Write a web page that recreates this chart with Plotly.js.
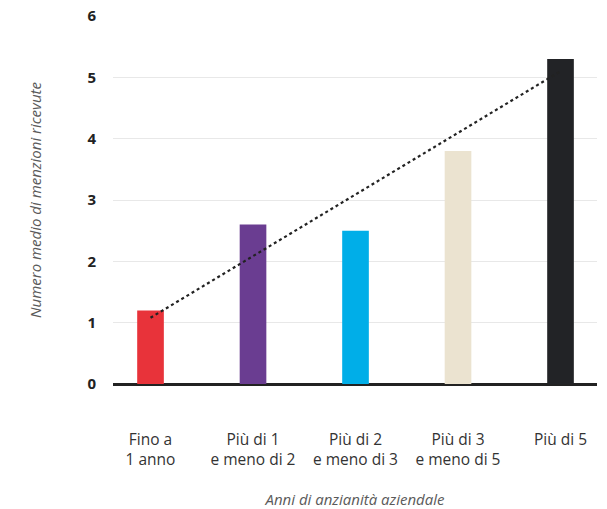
<!DOCTYPE html>
<html>
<head>
<meta charset="utf-8">
<script src="https://cdn.plot.ly/plotly-3.0.1.min.js"></script>
<style>
  html, body { margin: 0; padding: 0; background: #ffffff; }
  #chart { width: 607px; height: 509px; }
</style>
</head>
<body>
<div id="chart"></div>
<script>
// Seniority bands (x categories)
const categories = [
  "Fino a<br>1 anno",
  "Più di 1<br>e meno di 2",
  "Più di 2<br>e meno di 3",
  "Più di 3<br>e meno di 5",
  "Più di 5"
];
// Average number of mentions received per band
const mentions = [1.2, 2.6, 2.5, 3.8, 5.3];
const barColors = ["#e8333a", "#6a3d91", "#00aee8", "#ebe3d0", "#222326"];

// Linear trend line endpoints (first and last band)
const trendX = [0, 4];
const trendY = [1.08, 5.1];

const yTicks = [0, 1, 2, 3, 4, 5, 6];

const xIdx = categories.map((_, i) => i);

const bars = {
  type: "bar",
  x: xIdx,
  y: mentions,
  width: 0.26,
  marker: { color: barColors, line: { width: 0 } },
  hoverinfo: "skip",
  showlegend: false
};

const trend = {
  type: "scatter",
  mode: "lines",
  x: trendX,
  y: trendY,
  line: { color: "#222222", width: 2.2, dash: "dot" },
  hoverinfo: "skip",
  showlegend: false
};

const layout = {
  width: 607,
  height: 509,
  margin: { l: 113, r: 10, t: 16, b: 125 },
  paper_bgcolor: "#ffffff",
  plot_bgcolor: "#ffffff",
  font: { family: "'Open Sans', 'Noto Sans', sans-serif", color: "#333333" },
  xaxis: {
    range: [-0.366, 4.356],
    tickmode: "array",
    tickvals: xIdx,
    ticktext: categories,
    ticks: "",
    showgrid: false,
    zeroline: false,
    showline: false,
    ticklabelstandoff: 44,
    tickfont: { size: 15.5, color: "#333333" },
    title: {
      text: "Anni di anzianità aziendale",
      font: { size: 15, color: "#5a5a5a", style: "italic" },
      standoff: 26
    },
    fixedrange: true
  },
  yaxis: {
    range: [0, 6],
    tickmode: "array",
    tickvals: yTicks,
    ticktext: yTicks.map(v => "<b>" + v + "</b>"),
    ticks: "",
    showgrid: true,
    gridcolor: "#e8e8e8",
    gridwidth: 1,
    zeroline: true,
    zerolinecolor: "#222222",
    zerolinewidth: 3,
    showline: false,
    ticklabelstandoff: 16,
    tickfont: { size: 15, color: "#222222" },
    title: {
      text: "Numero medio di menzioni ricevute",
      font: { size: 15, color: "#5a5a5a", style: "italic" },
      standoff: 42
    },
    fixedrange: true
  },
  bargap: 0.74
};

Plotly.newPlot("chart", [bars, trend], layout, { displayModeBar: false, staticPlot: true });
</script>
</body>
</html>
